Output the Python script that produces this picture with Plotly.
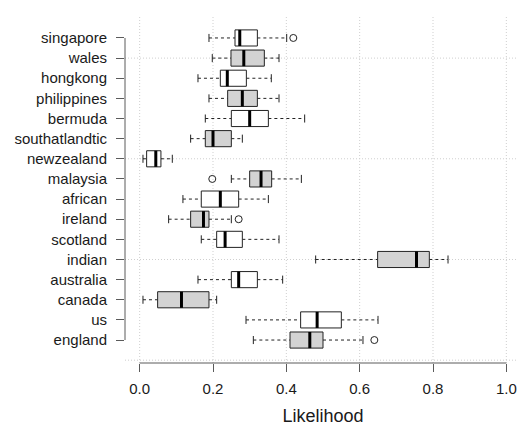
import plotly.graph_objects as go

categories = ["england", "us", "canada", "australia", "indian", "scotland", "ireland",
              "african", "malaysia", "newzealand", "southatlandtic", "bermuda",
              "philippines", "hongkong", "wales", "singapore"]
lower_whisker = [0.310, 0.290, 0.009, 0.159, 0.480, 0.168, 0.079, 0.118, 0.250, 0.009,
                 0.139, 0.179, 0.189, 0.159, 0.198, 0.189]
q1 = [0.410, 0.439, 0.049, 0.250, 0.649, 0.210, 0.139, 0.168, 0.300, 0.019,
      0.179, 0.250, 0.240, 0.220, 0.249, 0.260]
median = [0.464, 0.484, 0.114, 0.270, 0.755, 0.233, 0.174, 0.220, 0.331, 0.044,
          0.200, 0.300, 0.280, 0.239, 0.284, 0.273]
q3 = [0.500, 0.550, 0.189, 0.321, 0.790, 0.280, 0.189, 0.270, 0.360, 0.058,
      0.250, 0.351, 0.321, 0.291, 0.340, 0.321]
upper_whisker = [0.609, 0.650, 0.210, 0.390, 0.841, 0.380, 0.250, 0.351, 0.441, 0.089,
                 0.280, 0.450, 0.380, 0.359, 0.380, 0.401]
outlier_cat = ["england", "malaysia", "ireland", "singapore"]
outlier_val = [0.640, 0.198, 0.270, 0.419]
fills = ["#D3D3D3", "white"]  # alternating from bottom
x_ticks = [0.0, 0.2, 0.4, 0.6, 0.8, 1.0]
x_title = "Likelihood"

pos = {c: i + 1 for i, c in enumerate(categories)}
BW = 0.4      # half box width (data units)
SW = 0.2      # half staple width
BOX_LINE = "#222222"
AXIS_COL = "#5a5a5a"
GRID_COL = "#cfcfcf"

fig = go.Figure()

ymin, ymax = 0.5 - 0.64, 16.5 + 0.64
xmin, xmax = -0.04, 1.04
gx, gy = [], []
for v in x_ticks:
    gx += [v, v, None]
    gy += [ymin, ymax, None]
for p in [0, 5, 10, 15]:
    gx += [xmin, xmax, None]
    gy += [p, p, None]
fig.add_trace(go.Scatter(x=gx, y=gy, mode="lines", hoverinfo="skip",
                         line=dict(color=GRID_COL, width=1, dash="1px,2px"),
                         showlegend=False))

wx, wy, sx, sy = [], [], [], []
for i, c in enumerate(categories):
    p = pos[c]
    wx += [lower_whisker[i], q1[i], None, q3[i], upper_whisker[i], None]
    wy += [p, p, None, p, p, None]
    sx += [lower_whisker[i], lower_whisker[i], None, upper_whisker[i], upper_whisker[i], None]
    sy += [p - SW, p + SW, None, p - SW, p + SW, None]
fig.add_trace(go.Scatter(x=wx, y=wy, mode="lines", hoverinfo="skip",
                         line=dict(color=BOX_LINE, width=1, dash="3px,3px"), showlegend=False))
fig.add_trace(go.Scatter(x=sx, y=sy, mode="lines", hoverinfo="skip",
                         line=dict(color=BOX_LINE, width=1), showlegend=False))

for k, col in enumerate(fills):
    bx, by = [], []
    for i, c in enumerate(categories):
        if i % 2 != k:
            continue
        p = pos[c]
        bx += [q1[i], q3[i], q3[i], q1[i], q1[i], None]
        by += [p - BW, p - BW, p + BW, p + BW, p - BW, None]
    fig.add_trace(go.Scatter(x=bx, y=by, mode="lines", fill="toself", fillcolor=col,
                             hoverinfo="skip", line=dict(color=BOX_LINE, width=1),
                             showlegend=False))

mx, my = [], []
for i, c in enumerate(categories):
    p = pos[c]
    mx += [median[i], median[i], None]
    my += [p - BW, p + BW, None]
fig.add_trace(go.Scatter(x=mx, y=my, mode="lines", hoverinfo="skip",
                         line=dict(color="black", width=3), showlegend=False))

fig.add_trace(go.Scatter(x=outlier_val, y=[pos[c] for c in outlier_cat], mode="markers",
                         marker=dict(symbol="circle-open", size=7, color=BOX_LINE,
                                     line=dict(width=1)),
                         showlegend=False))

fig.add_shape(type="line", xref="x", yref="paper", x0=0, x1=1, y0=0, y1=0,
              line=dict(color=AXIS_COL, width=1))
fig.add_shape(type="line", xref="paper", yref="y", x0=0, x1=0, y0=1, y1=16,
              line=dict(color=AXIS_COL, width=1))

FONT = "Liberation Sans, Arial, sans-serif"
# page body has an 8px margin, so the figure is 8px smaller and offsets shifted
fig.update_layout(
    width=518, height=418,
    margin=dict(l=117, r=5, t=7, b=63, autoexpand=False),
    plot_bgcolor="white", paper_bgcolor="white",
    font=dict(family=FONT, size=15, color="#1a1a1a"),
    xaxis=dict(range=[xmin, xmax], tickvals=x_ticks,
               ticktext=[f"{v:.1f}" for v in x_ticks],
               showgrid=False, zeroline=False, showline=False, automargin=False,
               ticks="outside", ticklen=8, tickcolor=AXIS_COL, tickwidth=1,
               title=dict(text=x_title, font=dict(size=18), standoff=16),
               ticklabelstandoff=4),
    yaxis=dict(range=[ymin, ymax], tickvals=list(range(1, 17)), ticktext=categories,
               showgrid=False, zeroline=False, showline=False, automargin=False,
               ticks="outside", ticklen=8, tickcolor=AXIS_COL, tickwidth=1,
               ticklabelstandoff=6),
)

fig.write_html("out.html")
